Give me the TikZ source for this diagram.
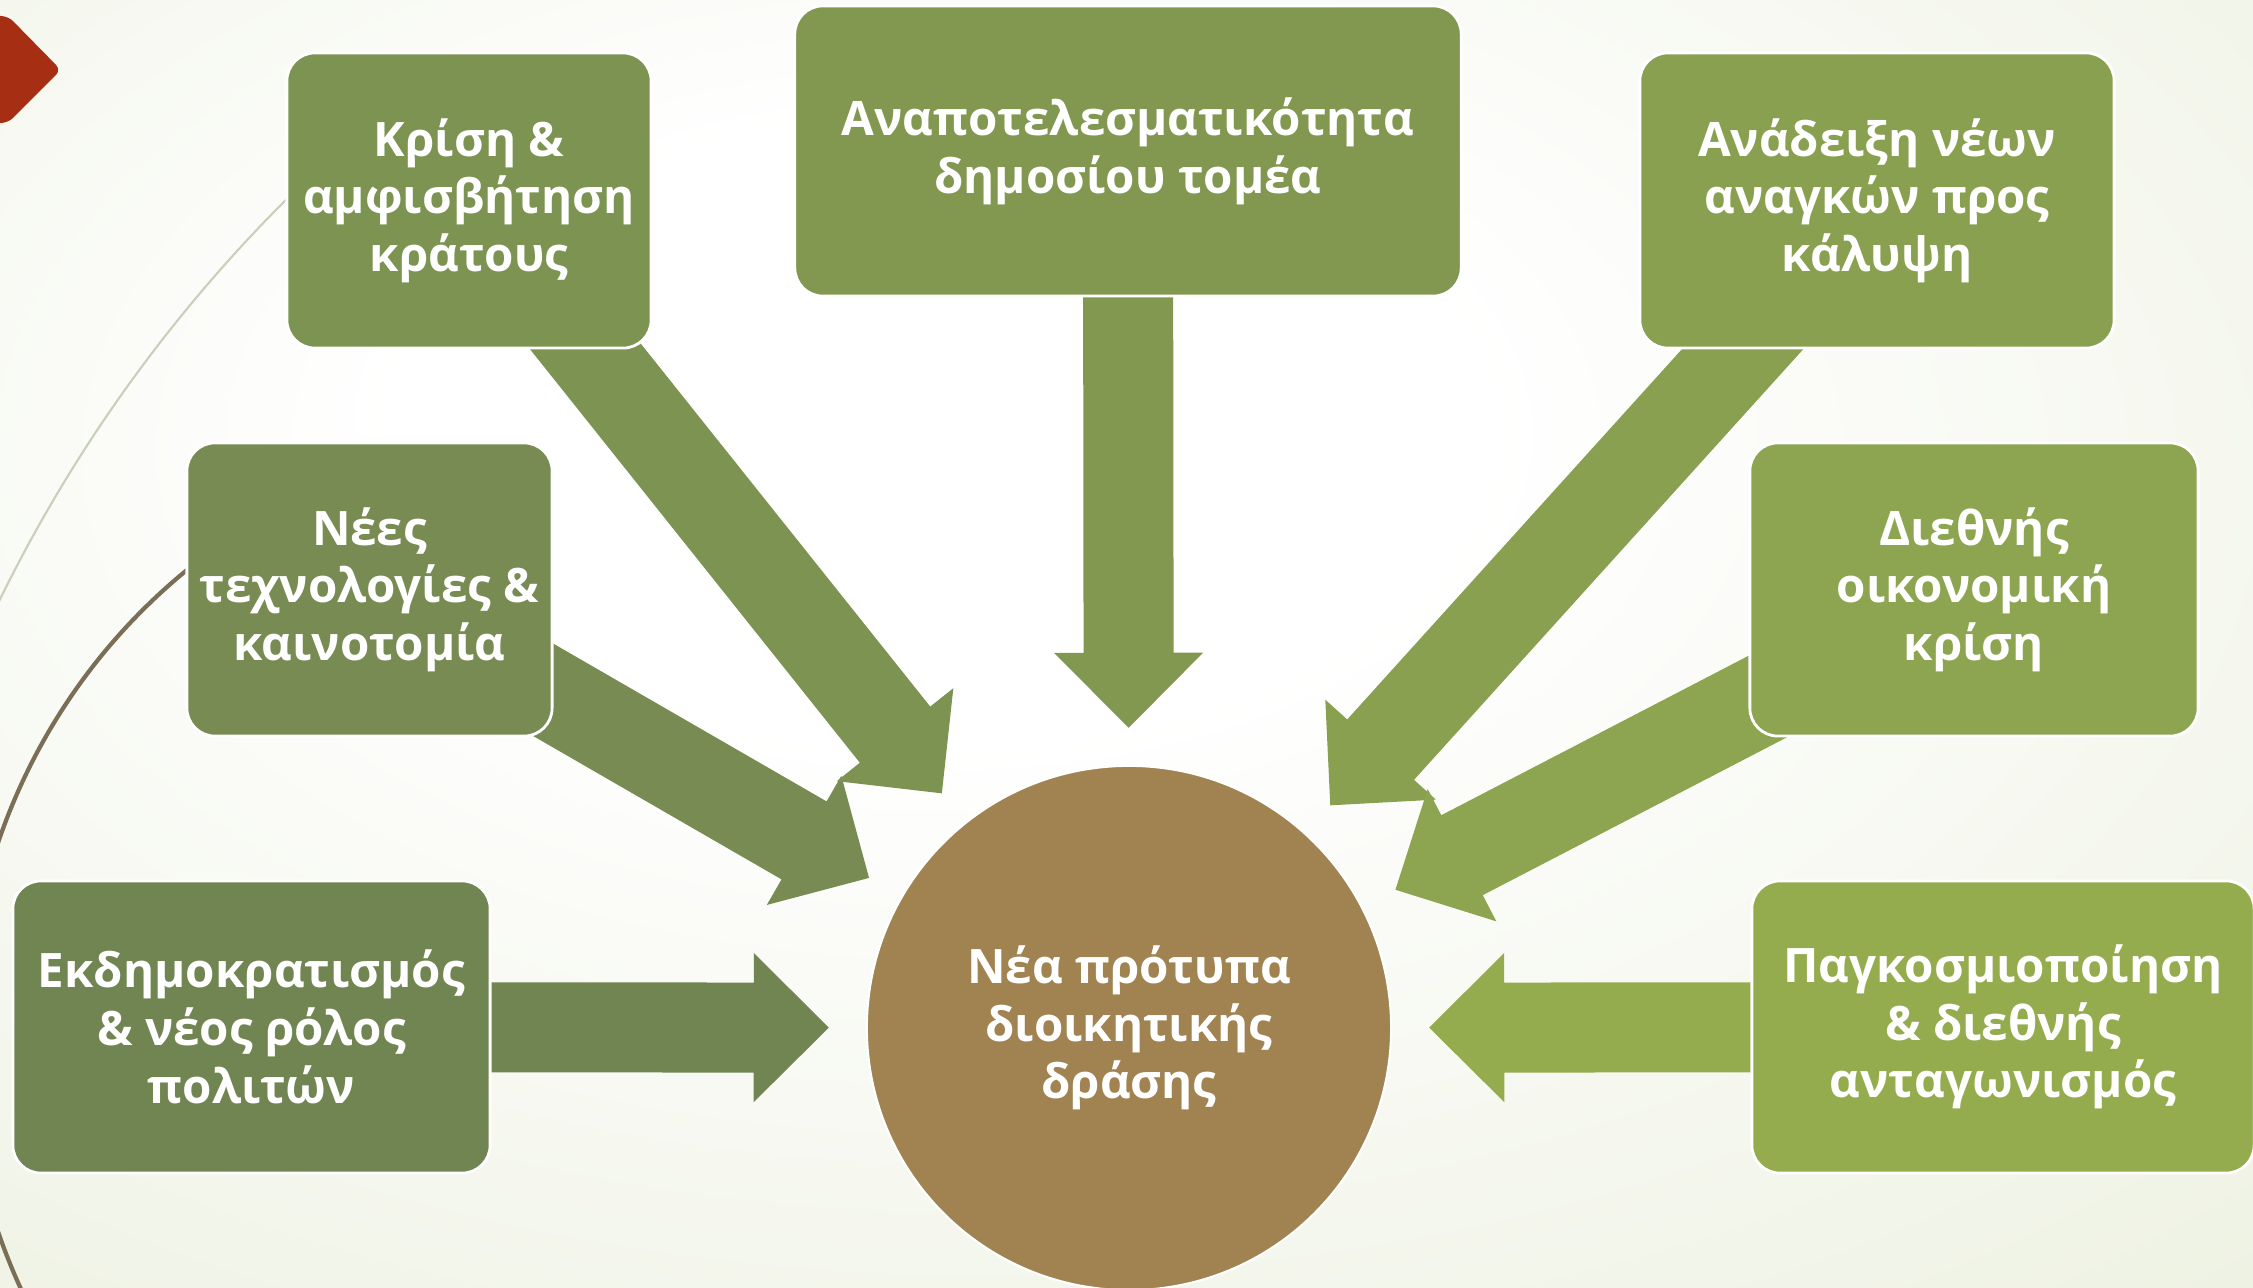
\documentclass[tikz,border=0pt]{standalone}
\usepackage{fontspec}
\setmainfont{Open Sans}
\usetikzlibrary{calc}
\pgfdeclarelayer{background}
\pgfdeclarelayer{arrowlayer}
\pgfsetlayers{background,arrowlayer,main}
\definecolor{gA}{HTML}{718552}
\definecolor{gB}{HTML}{778B52}
\definecolor{gC}{HTML}{7C9351}
\definecolor{gD}{HTML}{829851}
\definecolor{gE}{HTML}{88A050}
\definecolor{gF}{HTML}{8DA550}
\definecolor{gG}{HTML}{94AC4D}
\definecolor{brownc}{HTML}{A08351}
\definecolor{redtab}{HTML}{A62E12}
\definecolor{bgmid}{HTML}{EEF2E3}
\definecolor{bgedge}{HTML}{E2EACF}
\definecolor{thinline}{HTML}{CACFBA}
\definecolor{darkline}{HTML}{7A6E56}
\pgfdeclareradialshading{slidebg}{\pgfpoint{-5bp}{10bp}}{color(0bp)=(white); color(12bp)=(white); color(40bp)=(bgmid); color(72bp)=(bgedge)}
% block arrow from a box to the circle: #1 box, #2 colour
\newcommand{\blockarrow}[2]{%
  \coordinate (s) at (#1.center);
  \coordinate (t) at ($(cen.center)!3cm!(#1.center)$);
  \coordinate (h) at ($(t)!0.75cm!(s)$);
  \fill[#2] ($(s)!0.45cm!90:(t)$) -- ($(h)!0.45cm!90:(t)$) -- ($(h)!0.745cm!90:(t)$) -- (t)
    -- ($(h)!0.745cm!-90:(t)$) -- ($(h)!0.45cm!-90:(t)$) -- ($(s)!0.45cm!-90:(t)$) -- cycle;
}
\begin{document}
\begin{tikzpicture}[x=0.01cm,y=-0.01cm]
  \tikzstyle{box}=[rectangle,rounded corners=0.28cm,draw=white,line width=0.8pt,
    text=white,align=center,font=\fontsize{13.5}{16.4}\selectfont\bfseries]
  \tikzstyle{hub}=[circle,fill=brownc,draw=white,line width=0.6pt,minimum size=5.24cm,
    text=white,align=center,font=\fontsize{13.5}{16.4}\selectfont\bfseries]
  \useasboundingbox (0,0) rectangle (2253,1288);
  \clip (0,0) rectangle (2253,1288);
  % centre circle
  \node[hub] (cen) at (1129,1028) {Νέα πρότυπα\\διοικητικής\\δράσης};
  % boxes round it
  \node[box,fill=gC,minimum width=3.64cm,minimum height=2.95cm] (kr) at (469,200.5) {Κρίση \&\\αμφισβήτηση\\κράτους};
  \node[box,fill=gD,minimum width=6.66cm,minimum height=2.90cm] (an) at (1128,151) {Αναποτελεσματικότητα\\δημοσίου τομέα};
  \node[box,fill=gE,minimum width=4.74cm,minimum height=2.95cm] (ad) at (1877,200.5) {Ανάδειξη νέων\\αναγκών προς\\κάλυψη};
  \node[box,fill=gB,minimum width=3.65cm,minimum height=2.93cm] (ne) at (369.5,589.5) {Νέες\\τεχνολογίες \&\\καινοτομία};
  \node[box,fill=gF,minimum width=4.48cm,minimum height=2.93cm] (di) at (1974,589.5) {Διεθνής\\οικονομική\\κρίση};
  \node[box,fill=gA,minimum width=4.77cm,minimum height=2.92cm] (ek) at (251.5,1027) {Εκδημοκρατισμός\\\& νέος ρόλος\\πολιτών};
  \node[box,fill=gG,minimum width=5.02cm,minimum height=2.92cm] (pa) at (2003,1027) {Παγκοσμιοποίηση\\\& διεθνής\\ανταγωνισμός};
  % arrows, behind the boxes
  \begin{pgfonlayer}{arrowlayer}
    \clip (0,0) rectangle (2253,1288);
    \blockarrow{ek}{gA}
    \blockarrow{ne}{gB}
    \blockarrow{kr}{gC}
    \blockarrow{an}{gD}
    \blockarrow{ad}{gE}
    \blockarrow{di}{gF}
    \blockarrow{pa}{gG}
  \end{pgfonlayer}
  % slide background
  \begin{pgfonlayer}{background}
    \clip (0,0) rectangle (2253,1288);
    \shade[shading=slidebg] (0,0) rectangle (2253,1288);
    \draw[thinline,line width=0.6pt] (1338,1255) ++(228:1490) arc[start angle=228,end angle=200,radius=1490];
    \draw[darkline,line width=1.2pt] (570,1037) ++(235:604) arc[start angle=235,end angle=145,radius=604];
    \fill[redtab,rounded corners=2pt] (-10,16) -- (8,16) -- (61,70) -- (8,123) -- (-10,123) -- cycle;
  \end{pgfonlayer}
\end{tikzpicture}
\end{document}
